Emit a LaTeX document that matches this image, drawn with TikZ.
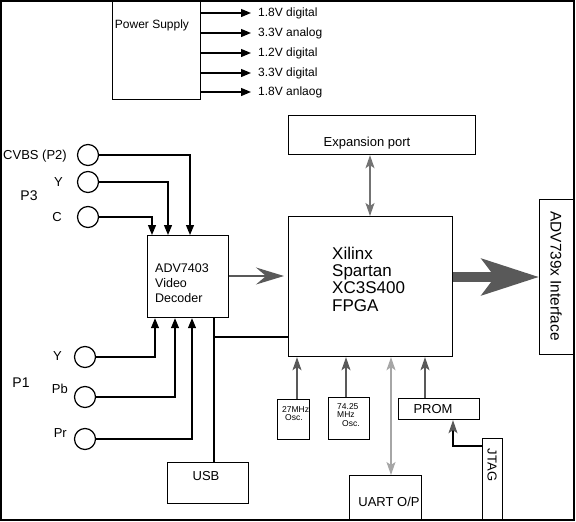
\documentclass[tikz,border=0pt]{standalone}
\usepackage{fontspec}
\setmainfont{Liberation Sans}
\usetikzlibrary{arrows.meta}
\begin{document}
\begin{tikzpicture}[x=1pt,y=-1pt,
  box/.style={draw, line width=1.2pt, inner sep=0pt, anchor=north west},
  txt/.style={inner sep=0pt, font=\fontsize{12}{14}\selectfont},
  wire/.style={line width=1.2pt},
  blk/.style={-{Triangle[length=10pt,width=8pt]}},
  port/.style={circle, draw, line width=1.2pt, minimum size=21pt, inner sep=0pt},
  gr/.style={draw=black!65, line width=1.3pt, -{Stealth[length=13pt,width=9pt,inset=3pt]}},
  grboth/.style={line width=1.3pt, {Stealth[length=13pt,width=9pt,inset=3pt]}-{Stealth[length=13pt,width=9pt,inset=3pt]}},
  osc/.style={inner sep=0pt, align=left, font=\fontsize{8.5}{9}\selectfont},
]
\useasboundingbox (0,0) rectangle (576,522);
\draw[line width=1.3pt] (1,1) rectangle (574,520);

% power supply
\node[box, minimum width=88pt, minimum height=98pt] (ps) at (112,1) {};
\node[txt] (pst) at (152,25) {Power Supply};
\foreach \i/\y/\t in {1/13/1.8V digital, 2/33/3.3V analog, 3/53/1.2V digital, 4/73/3.3V digital, 5/92/1.8V anlaog}{
  \node[txt, anchor=west] (v\i) at (258,\y) {\t};
  \draw[wire,blk] (ps.east |- v\i) -- ([xshift=-7pt]v\i.west);
}

% expansion port
\node[box, minimum width=187pt, minimum height=39pt] (exp) at (288,115) {};
\node[txt, font=\fontsize{13}{15}\selectfont] (expt) at (367,143) {Expansion port};

% FPGA
\node[box, minimum width=164pt, minimum height=140pt] (fpga) at (288,216) {};
\node[txt, align=left, anchor=west, font=\fontsize{17}{17.3}\selectfont] (fpgat) at (332,279) {Xilinx\\Spartan\\XC3S400\\FPGA};
\coordinate (ex) at (370,0);
\draw[grboth, draw=black!55] (exp.south -| ex) -- (fpga.north -| ex);

% ADV739x
\node[box, minimum width=34pt, minimum height=155pt] (adv) at (539,199) {};
\node[txt, rotate=-90, font=\fontsize{15.4}{17}\selectfont] (advt) at (556,276) {ADV739x Interface};
\coordinate (ba) at (0,277);
\draw[draw=black!65, line width=10pt, -{Stealth[length=57pt,width=36pt,inset=13pt]}] (fpga.east |- ba) -- (adv.west |- ba);

% decoder
\node[box, minimum width=81pt, minimum height=82pt] (dec) at (147,235) {};
\node[txt, align=left, anchor=west, font=\fontsize{12.5}{15}\selectfont] (dect) at (155,283) {ADV7403\\Video\\Decoder};
\coordinate (da) at (0,276);
\draw[draw=black!65, line width=2pt, shorten >=4pt, -{Stealth[length=28pt,width=17pt,inset=10pt]}] (dec.east |- da) -- (fpga.west |- da);

% top inputs
\node[port] (cv) at (88,155) {};
\node[port] (yt) at (88,182) {};
\node[port] (ct) at (88,217) {};
\node[txt, anchor=east, font=\fontsize{13}{15}\selectfont] (cvl) at (67,156) {CVBS (P2)};
\node[txt, anchor=east, font=\fontsize{13}{15}\selectfont] (ytl) at (63,182) {Y};
\node[txt, anchor=east, font=\fontsize{13}{15}\selectfont] (ctl) at (62,217) {C};
\node[txt, font=\fontsize{14}{16}\selectfont] (p3) at (29,196) {P3};
\draw[wire,blk] (cv.east) -| ([xshift=43pt]dec.north west);
\draw[wire,blk] (yt.east) -| ([xshift=21pt]dec.north west);
\draw[wire,blk] (ct.east) -| ([xshift=5pt]dec.north west);

% bottom inputs
\node[port] (yb) at (85,357) {};
\node[port] (pb) at (85,397) {};
\node[port] (pr) at (85,439) {};
\node[txt, anchor=east, font=\fontsize{13}{15}\selectfont] (ybl) at (62,356) {Y};
\node[txt, anchor=east, font=\fontsize{13}{15}\selectfont] (pbl) at (68,389) {Pb};
\node[txt, anchor=east, font=\fontsize{13}{15}\selectfont] (prl) at (67,433) {Pr};
\node[txt, font=\fontsize{14}{16}\selectfont] (p1) at (21,383) {P1};
\draw[wire,blk] (yb.east) -| ([xshift=8pt]dec.south west);
\draw[wire,blk] (pb.east) -| ([xshift=28pt]dec.south west);
\draw[wire,blk] (pr.east) -| ([xshift=45pt]dec.south west);

% USB
\node[box, minimum width=81pt, minimum height=41pt] (usb) at (167,462) {};
\node[txt, font=\fontsize{13}{15}\selectfont] (usbt) at (206,476) {USB};
\coordinate (j) at (214,337);
\draw[wire] (dec.south -| j) -- (usb.north -| j);
\draw[wire] (j) -- (fpga.west |- j);

% oscillators
\node[box, minimum width=32pt, minimum height=40pt] (o1) at (277,399) {};
\node[osc, anchor=north west] (o1t) at (282,406) {27MHz\\[-1pt]\hspace*{3pt}Osc.};
\node[box, minimum width=41pt, minimum height=42pt] (o2) at (328,397) {};
\node[osc, anchor=north west] (o2t) at (337,403) {74.25\\[-0.5pt]MHz\\[-0.5pt]\hspace*{5pt}Osc.};
\coordinate (g1) at (297,0);
\coordinate (g2) at (346,0);
\draw[gr] (o1.north -| g1) -- (fpga.south -| g1);
\draw[gr] (o2.north -| g2) -- (fpga.south -| g2);

% PROM
\node[box, minimum width=81pt, minimum height=21pt] (prom) at (398,398) {};
\node[txt, font=\fontsize{13}{15}\selectfont] (promt) at (433,409) {PROM};
\coordinate (g3) at (425,0);
\draw[gr] (prom.north -| g3) -- (fpga.south -| g3);

% UART
\node[box, minimum width=72pt, minimum height=44pt] (uart) at (349,475) {};
\node[txt, font=\fontsize{13}{15}\selectfont] (uartt) at (389,502) {UART O/P};
\coordinate (g4) at (391,0);
\draw[grboth, draw=black!35] (fpga.south -| g4) -- (uart.north -| g4);

% JTAG
\node[box, minimum width=20pt, minimum height=81pt] (jtag) at (482,438) {};
\node[txt, rotate=-90, font=\fontsize{13}{15}\selectfont] (jtagt) at (492,465) {JTAG};
\coordinate (jt) at (453,446);
\draw[wire, -{Stealth[length=13pt,width=9pt,inset=3pt,color=black!65]}] (jtag.west |- jt) -| (prom.south -| jt);
\end{tikzpicture}
\end{document}
